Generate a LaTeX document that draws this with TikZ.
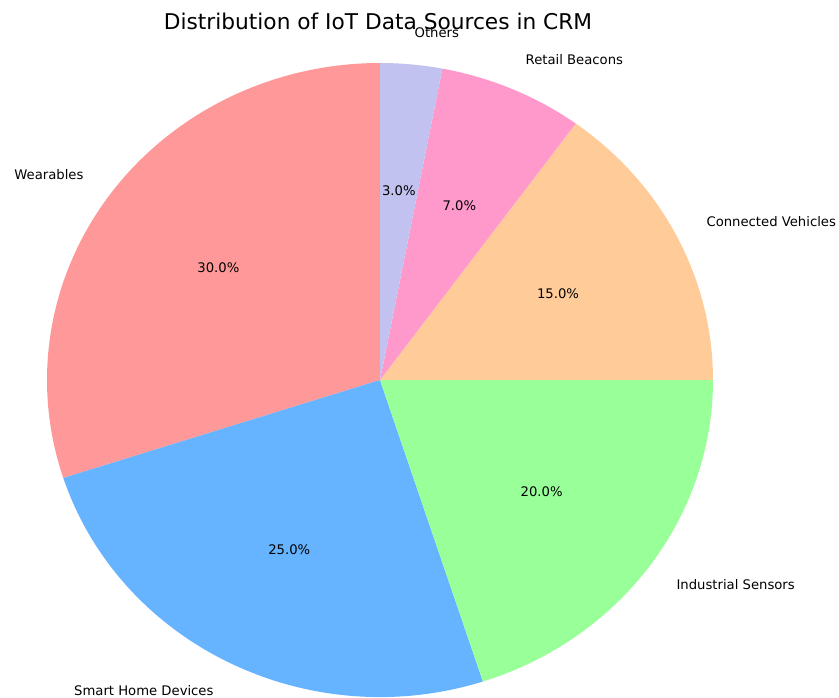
\documentclass[tikz,border=0pt]{standalone}
\usepackage{fontspec}
\setmainfont{DejaVu Sans}
\usetikzlibrary{calc}
\definecolor{cWear}{HTML}{FF9999}
\definecolor{cHome}{HTML}{66B3FF}
\definecolor{cInd}{HTML}{99FF99}
\definecolor{cVeh}{HTML}{FFCC99}
\definecolor{cRet}{HTML}{FF99CC}
\definecolor{cOth}{HTML}{C2C2F0}
\begin{document}
\begin{tikzpicture}[x=1pt,y=1pt,
  lbl/.style={inner sep=0pt,font=\fontsize{13.2}{15}\selectfont},
  pct/.style={inner sep=0pt,font=\fontsize{13.2}{15}\selectfont}]
\useasboundingbox (0,0) rectangle (839,698);
\coordinate (c) at (380,318);
% wedges: start angle / end angle / colour / label / percentage / label anchor
\foreach \a/\b/\col/\name/\p/\anc in {
  90/198/cWear/Wearables/30.0/east,
  198/288/cHome/Smart Home Devices/25.0/east,
  288/360/cInd/Industrial Sensors/20.0/west,
  0/54/cVeh/Connected Vehicles/15.0/west,
  54/79.2/cRet/Retail Beacons/7.0/west,
  79.2/90/cOth/Others/3.0/west}{
  \pgfmathsetmacro{\m}{(\a+\b)/2}
  \fill[\col] (c) -- ++(\a:333 and 317) arc[start angle=\a, end angle=\b, x radius=333, y radius=317] -- cycle;
  \node[pct] at ($(c)+(\m:199.8 and 190.2)$) {\p\%};
  \node[lbl,anchor=\anc] at ($(c)+(\m:366.3 and 348.7)$) {\name};
}
\node[inner sep=0pt,font=\fontsize{21.7}{25}\selectfont] (title) at (378,677) {Distribution of IoT Data Sources in CRM};
\end{tikzpicture}
\end{document}
